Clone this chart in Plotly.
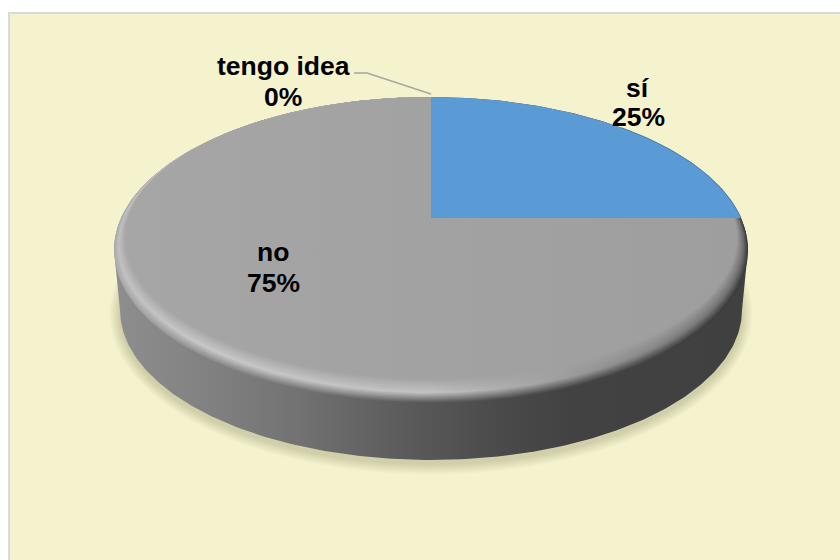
import numpy as np
import plotly.graph_objects as go

# ---- data ----
categories = ["sí", "no", "tengo idea"]
values = [25, 75, 0]

# ---- presentation ----
FONT = "Liberation Sans, Arial, sans-serif"
PANEL = "#f5f3cd"
BLUE = "#5b9bd5"
FACE_L, FACE_R = (166, 166, 166), (158, 158, 158)
X0, X1 = 114, 748                 # pie horizontal extent on the axes
CX = (X0 + X1) / 2
TOP, BOTTOM = 97, 403             # top face vertical extent
APEX_Y = 218                      # perspective centre of the pie
DEPTH_CY, DEPTH_RX, DEPTH_RY = 310, 311, 150

label_pos = {
    "sí": [(638, 88), (638, 117)],
    "no": [(273, 252), (273, 283)],
    "tengo idea": [(283, 66), (283, 97)],
}


def ell(cx, cy, rx, ry, a0=0.0, a1=2 * np.pi, n=240):
    th = np.linspace(a0, a1, n)
    return cx + rx * np.cos(th), cy + ry * np.sin(th)


def wedge(a0, a1, rx, top, bottom):
    """Slice polygon: apex + arc from a0 to a1 (radians, clockwise from top)."""
    ry = (bottom - top) / 2
    cy = (bottom + top) / 2
    px, py = 0.0, (APEX_Y - cy) / ry
    ang = np.linspace(a0, a1, max(2, int((a1 - a0) / (2 * np.pi) * 360)))
    qx, qy = np.sin(ang), -np.cos(ang)
    b = px * qx + py * qy
    c = px * px + py * py - 1
    s = -b + np.sqrt(b * b - c)
    return CX + rx * (px + s * qx), cy + ry * (py + s * qy)


def rgb(c):
    return "rgb(%d,%d,%d)" % tuple(int(round(v)) for v in c)


def mix(a, b, f):
    return tuple(x + (y - x) * f for x, y in zip(a, b))


def area(x, y, fillcolor=None, grad=None):
    kw = dict(x=x, y=y, mode="lines", fill="toself", line=dict(width=0),
              hoverinfo="skip", showlegend=False)
    if grad is not None:
        kw["fillgradient"] = dict(type="horizontal", start=X0, stop=X1, colorscale=grad)
    else:
        kw["fillcolor"] = fillcolor
    return go.Scatter(**kw)


fig = go.Figure()

# soft ground shadow
for k in range(12, 0, -1):
    x, y = ell(CX, 314, DEPTH_RX + k * 0.9, DEPTH_RY + k * 0.9)
    fig.add_trace(area(x, y, fillcolor="rgba(0,0,0,0.01)"))

# extruded side of the disc
bx, by = ell(CX, DEPTH_CY, DEPTH_RX, DEPTH_RY, np.pi, 0)
tx, ty = ell(CX, (TOP + BOTTOM) / 2, (X1 - X0) / 2, (BOTTOM - TOP) / 2, 0, -np.pi)
side_grad = [[0, "#8e8e8e"], [0.14, "#828282"], [0.29, "#727272"], [0.45, "#5c5c5c"],
             [0.61, "#4a4a4a"], [0.72, "#424242"], [1, "#404040"]]
fig.add_trace(area(np.r_[bx, tx], np.r_[by, ty], grad=side_grad))

# slice angles derived from the values
total = sum(values)
edges = np.cumsum([0] + values) / total * 2 * np.pi
slice_range = {c: (edges[i], edges[i + 1]) for i, c in enumerate(categories)}

# grey slice with bevelled rim: nested layers from outer edge inwards
stops = [0, 0.14, 0.5, 0.75, 1]
outer = [(170, 170, 170), (140, 140, 140), (88, 88, 88), (68, 68, 68), (56, 56, 56)]
peak = [(192, 192, 192), (200, 200, 200), (194, 194, 194), (150, 150, 150), (110, 110, 110)]
face = [mix(FACE_L, FACE_R, s) for s in stops]
N = 26
a0, a1 = slice_range["no"]
for i in range(N + 1):
    t = i / N
    cols = []
    for o, p, f in zip(outer, peak, face):
        cols.append(mix(o, p, t / 0.42) if t < 0.42 else mix(p, f, (t - 0.42) / 0.58))
    grad = [[s, rgb(c)] for s, c in zip(stops, cols)]
    rx = (X1 - X0) / 2 - 11 * t
    x, y = wedge(a0, a1, rx, TOP, BOTTOM - 24 * t)
    fig.add_trace(area(np.r_[CX, x, CX], np.r_[APEX_Y, y, APEX_Y], grad=grad))

# blue slice
a0, a1 = slice_range["sí"]
x, y = wedge(a0, a1, (X1 - X0) / 2, TOP, BOTTOM)
fig.add_trace(area(np.r_[CX, x, CX], np.r_[APEX_Y, y, APEX_Y], fillcolor=BLUE))
fig.add_trace(go.Scatter(x=x[len(x) // 2:], y=y[len(y) // 2:], mode="lines",
                         line=dict(color="#4a7fae", width=1),
                         hoverinfo="skip", showlegend=False))

# leader line of the zero slice
fig.add_trace(go.Scatter(x=[354, 367, CX], y=[73, 73, 94], mode="lines",
                         line=dict(color="#a6a6a6", width=1.5),
                         hoverinfo="skip", showlegend=False))

# labels
annotations = []
for cat, val in zip(categories, values):
    (lx, ly), (px, py) = label_pos[cat]
    for text, ax, ay in ((cat, lx, ly), (f"{round(val / total * 100)}%", px, py)):
        annotations.append(dict(x=ax, y=ay, text=text, showarrow=False, xanchor="center",
                                yanchor="middle",
                                font=dict(family=FONT, size=26.5, color="#000000",
                                          weight="bold")))
fig.update_layout(
    width=840, height=560, autosize=False,
    margin=dict(l=0, r=0, t=0, b=0),
    paper_bgcolor="#ffffff", plot_bgcolor="rgba(0,0,0,0)",
    xaxis=dict(range=[0, 840], visible=False, fixedrange=True),
    yaxis=dict(range=[560, 0], visible=False, fixedrange=True),
    annotations=annotations,
    shapes=[dict(type="rect", layer="below", x0=9, y0=13, x1=850, y1=570,
                 fillcolor=PANEL, line=dict(color="#d9d9d9", width=2))],
)
fig.write_html("out.html", config=dict(displayModeBar=False),
               post_script="document.body.style.margin='0';document.documentElement.style.overflow='hidden';")
